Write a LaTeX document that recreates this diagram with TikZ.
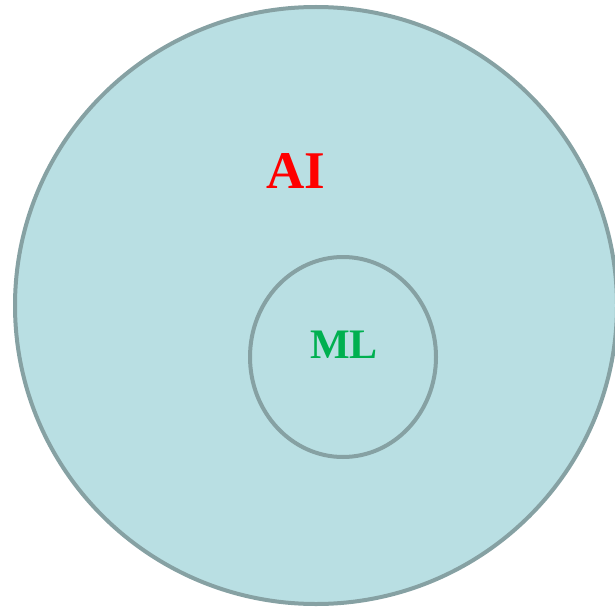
\documentclass[tikz,border=0pt]{standalone}
\usepackage{fontspec}
\setmainfont{Liberation Serif}
\usetikzlibrary{shapes.geometric}
\definecolor{fillc}{HTML}{B9DFE3}
\definecolor{linec}{HTML}{86A1A3}
\definecolor{aired}{HTML}{FF0000}
\definecolor{mlgreen}{HTML}{00B050}
\tikzset{
  setbox/.style={ellipse, draw=linec, fill=fillc, line width=4pt, inner sep=0pt},
  lbl/.style={font=\bfseries, inner sep=0pt}
}
\begin{document}
\begin{tikzpicture}[x=1pt,y=1pt]
\useasboundingbox (0,0) rectangle (615,-607);
\node[setbox, minimum width=602pt, minimum height=597pt] (ai) at (316,-305.5) {};
\node[setbox, minimum width=186pt, minimum height=200pt] (ml) at (343,-357) {};
\node[lbl, text=aired, font=\fontsize{53}{60}\selectfont\bfseries] (ailbl) at (296,-171) {AI};
\node[lbl, text=mlgreen, font=\fontsize{42}{48}\selectfont\bfseries] (mllbl) at (344,-345) {ML};
\end{tikzpicture}
\end{document}
